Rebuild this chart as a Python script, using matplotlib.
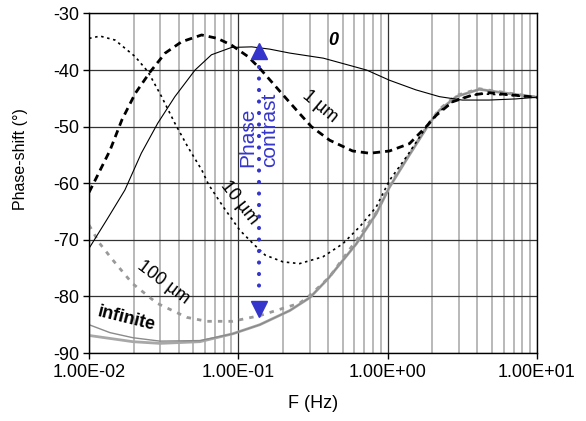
import numpy as np
import matplotlib.pyplot as plt
from matplotlib.ticker import FixedLocator, FuncFormatter, NullFormatter

plt.rcParams["font.family"] = ["Liberation Sans", "DejaVu Sans"]
plt.rcParams["axes.unicode_minus"] = False

# readings: log10(F in Hz) and phase-shift in degrees
logf_0 = [-2.0, -1.88, -1.76, -1.65, -1.54, -1.425, -1.29, -1.18, -1.045, -0.91, -0.79,
          -0.655, -0.43, -0.14, 0.013, 0.19, 0.348, 0.50, 0.68, 0.86, 1.0]
phase_0 = [-71.5, -66.4, -61.2, -54.7, -49.4, -44.7, -40.0, -37.3, -36.0, -35.9, -36.3,
           -37.0, -37.9, -40.0, -41.8, -43.5, -44.7, -45.3, -45.3, -45.1, -44.8]

logf_1um = [-2.0, -1.96, -1.86, -1.78, -1.69, -1.59, -1.49, -1.38, -1.246, -1.14, -1.045,
            -0.936, -0.856, -0.70, -0.589, -0.51, -0.388, -0.234, -0.12, 0.013, 0.147,
            0.259, 0.326, 0.436, 0.57, 0.68, 0.79, 1.0]
phase_1um = [-61.6, -59.5, -54.2, -48.8, -44.1, -40.3, -37.0, -35.0, -33.8, -34.4, -35.6,
             -37.6, -39.7, -44.4, -47.7, -50.0, -52.4, -54.3, -54.7, -54.3, -53.0,
             -50.0, -48.0, -45.6, -44.4, -44.0, -44.3, -44.8]

logf_10um = [-2.0, -1.926, -1.826, -1.692, -1.605, -1.514, -1.425, -1.338, -1.244, -1.20,
             -1.10, -0.99, -0.90, -0.82, -0.70, -0.589, -0.433, -0.30, -0.187, -0.076,
             0.013, 0.125, 0.281, 0.348, 0.46, 0.615, 0.8, 1.0]
phase_10um = [-34.4, -34.0, -34.7, -37.6, -40.3, -44.7, -49.4, -53.6, -57.7, -60.2,
              -64.2, -68.3, -70.7, -72.7, -73.9, -74.2, -73.0, -70.7, -67.7, -64.2,
              -59.5, -55.4, -49.2, -47.3, -45.2, -44.2, -44.4, -44.9]

logf_100um = [-2.0, -1.93, -1.84, -1.71, -1.545, -1.345, -1.21, -1.04, -0.856, -0.70,
              -0.589, -0.52, -0.39, -0.207, -0.076, 0.013, 0.125, 0.281, 0.348, 0.46,
              0.615, 0.77, 1.0]
phase_100um = [-67.4, -70.6, -73.6, -77.7, -81.2, -83.7, -84.4, -84.4, -83.4, -82.1,
               -81.2, -79.8, -76.6, -70.0, -65.2, -60.5, -55.7, -49.3, -46.9, -44.5,
               -43.3, -43.9, -44.8]

logf_inf = [-2.0, -1.706, -1.525, -1.258, -1.037, -0.856, -0.655, -0.52, -0.40, -0.209,
            -0.076, 0.013, 0.125, 0.281, 0.348, 0.46, 0.615, 0.77, 1.0]
phase_inf = [-86.9, -88.0, -88.3, -88.0, -86.6, -85.0, -82.5, -80.2, -76.9, -70.7,
             -65.4, -60.7, -55.9, -49.4, -47.1, -44.7, -43.4, -44.0, -44.8]

logf_inf2 = [-2.0, -1.86, -1.706, -1.525, -1.258, -1.037, -0.856, -0.655, -0.52, -0.40,
             -0.209, -0.076, 0.013, 0.125, 0.281, 0.348, 0.46, 0.615, 0.77, 1.0]
phase_inf2 = [-85.0, -86.4, -87.3, -87.9, -87.8, -86.6, -85.0, -82.5, -80.2, -76.9,
              -70.7, -65.4, -60.7, -55.9, -49.4, -47.1, -44.7, -43.4, -44.0, -44.8]

# "phase contrast" arrow
arrow_f = 0.137
arrow_top = -36.6
arrow_bottom = -82.3
blue = "#3535cc"

fig = plt.figure(figsize=(5.86, 4.21), dpi=100)
ax = fig.add_axes([0.152, 0.1615, 0.764, 0.8065])


def hz(logf):
    return 10 ** np.array(logf)


# gray curves first, black ones over them
ax.plot(hz(logf_inf), phase_inf, color="#a8a8a8", lw=2.0, zorder=3)
ax.plot(hz(logf_inf2), phase_inf2, color="#8a8a8a", lw=1.0, zorder=3)
ax.plot(hz(logf_100um), phase_100um, color="#999999", lw=2.0, dashes=(1.6, 2.2), zorder=3)
ax.plot(hz(logf_10um), phase_10um, color="black", lw=1.2, dashes=(1.5, 2.2), zorder=4)
ax.plot(hz(logf_1um), phase_1um, color="black", lw=2.0, dashes=(2.6, 1.8), zorder=4)
ax.plot(hz(logf_0), phase_0, color="black", lw=0.8, zorder=4)

ax.set_xscale("log")
ax.set_xlim(0.01, 10)
ax.set_ylim(-90, -30)

# axes ticks / grid
ax.xaxis.set_major_locator(FixedLocator([0.01, 0.1, 1, 10]))
ax.xaxis.set_major_formatter(FuncFormatter(lambda v, p: f"{v:.2E}"))
ax.xaxis.set_minor_locator(FixedLocator([m * d for d in [0.01, 0.1, 1] for m in range(2, 10)]))
ax.xaxis.set_minor_formatter(NullFormatter())
ax.set_yticks(np.arange(-90, -29, 10))
ax.tick_params(axis="both", which="major", labelsize=13, length=4, width=1, direction="out")
ax.tick_params(axis="x", which="major", pad=4)
ax.tick_params(axis="y", which="major", pad=3)
ax.tick_params(axis="x", which="minor", length=0)
ax.grid(True, which="major", color="#333333", lw=0.9, zorder=1)
ax.grid(True, which="minor", axis="x", color="#a6a6a6", lw=1.1, zorder=1)
ax.set_axisbelow(True)
for s in ax.spines.values():
    s.set_linewidth(1.0)
    s.set_zorder(5)

ax.set_xlabel("F (Hz)", fontsize=13, labelpad=10)
ax.set_ylabel("Phase-shift (°)", fontsize=11.5)
ax.yaxis.set_label_coords(-0.136, 0.571)

# arrow: dotted shaft with two filled heads
ax.plot([arrow_f, arrow_f], [-39.5, -79.2], color=blue, lw=3.0,
        linestyle=(0, (0.01, 2.75)), dash_capstyle="round", zorder=6)
ax.plot([arrow_f], [arrow_top], marker="^", color=blue, markersize=11, zorder=6)
ax.plot([arrow_f], [arrow_bottom], marker="v", color=blue, markersize=11, zorder=6)
ax.text(arrow_f, -50.6, "Phase\ncontrast", color=blue, fontsize=15, rotation=90,
        ha="center", va="center", multialignment="left", linespacing=1.2, zorder=7)

# curve labels
ax.text(0.436, -34.7, "0", fontsize=13, fontweight="bold", fontstyle="italic",
        ha="center", va="center")
ax.text(0.351, -46.5, "1 µm", fontsize=13, rotation=-40, ha="center", va="center")
ax.text(0.102, -63.5, "10 µm", fontsize=13, rotation=-52, ha="center", va="center")
ax.text(0.0313, -77.5, "100 µm", fontsize=13, rotation=-37, ha="center", va="center")
ax.text(0.0179, -83.9, "infinite", fontsize=13, fontweight="bold", rotation=-14,
        ha="center", va="center")

fig.savefig("out.png", dpi=100)
